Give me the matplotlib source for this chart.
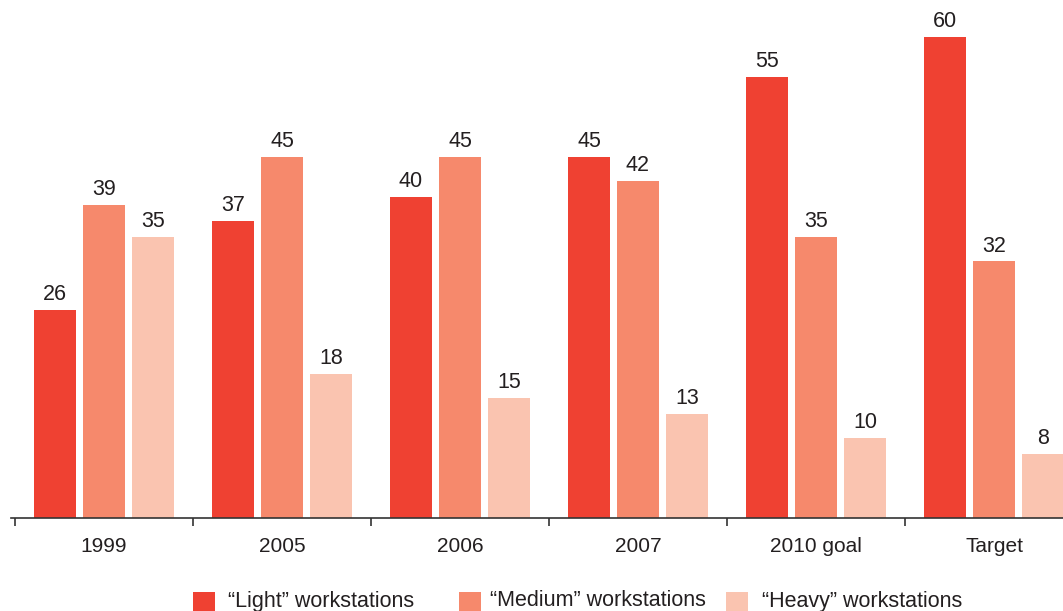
import matplotlib
matplotlib.use("Agg")
import matplotlib.pyplot as plt
from matplotlib.patches import Rectangle
import numpy as np

plt.rcParams['font.family'] = ['Liberation Sans', 'DejaVu Sans']

categories = ["1999", "2005", "2006", "2007", "2010 goal", "Target"]
series_names = ["\u201cLight\u201d workstations",
                "\u201cMedium\u201d workstations",
                "\u201cHeavy\u201d workstations"]
light = [26, 37, 40, 45, 55, 60]
medium = [39, 45, 45, 42, 35, 32]
heavy = [35, 18, 15, 13, 10, 8]
colors = ["#EF4132", "#F6896C", "#FAC4B0"]
text_color = "#231F20"

W, H = 1063, 611
fig = plt.figure(figsize=(W / 100, H / 100), dpi=100)

# axes spans the full width; baseline sits 518 px from the top
base_px = 518
ax = fig.add_axes([0, (H - base_px) / H, 1, base_px / H])

group_px = 178.0
first_center_px = 104.0
xlim = (-first_center_px / group_px, (W - first_center_px) / group_px)

x = np.arange(len(categories))
offset = 49 / group_px
width = 42 / group_px

for i, (vals, col) in enumerate(zip([light, medium, heavy], colors)):
    bars = ax.bar(x + (i - 1) * offset, vals, width=width, color=col, linewidth=0)
    for b, v in zip(bars, vals):
        ax.annotate(str(v), (b.get_x() + b.get_width() / 2, v),
                    xytext=(0, 3.5), textcoords="offset points",
                    ha="center", va="bottom", fontsize=15.5, color=text_color)

for s in ["top", "right", "left"]:
    ax.spines[s].set_visible(False)
ax.spines["bottom"].set_color("#333333")
ax.spines["bottom"].set_linewidth(1.2)

ax.set_yticks([])
ax.set_xticks(x)
ax.set_xticklabels(categories, fontsize=15, color=text_color)
ax.tick_params(axis="x", which="major", length=0, pad=14)
ax.set_xticks(np.arange(-0.5, len(categories) - 1, 1.0), minor=True)
ax.tick_params(axis="x", which="minor", length=6, width=1.2, color="#333333", direction="out")

ax.set_xlim(*xlim)
ax.set_ylim(0, 64.6)
ax.spines["bottom"].set_bounds(-0.52, xlim[1])

# legend along the bottom edge (swatch left edge, label left edge in pixels)
legend_pos = [(193, 228), (459, 490), (726, 762)]
for (sx, tx), name, col in zip(legend_pos, series_names, colors):
    fig.add_artist(Rectangle((sx / W, 0), 22 / W, 19 / H,
                             transform=fig.transFigure, color=col, linewidth=0))
    fig.text(tx / W, (H - 601) / H, name, fontsize=15.5,
             color=text_color, va="center", ha="left")

fig.savefig("out.png", dpi=100)
